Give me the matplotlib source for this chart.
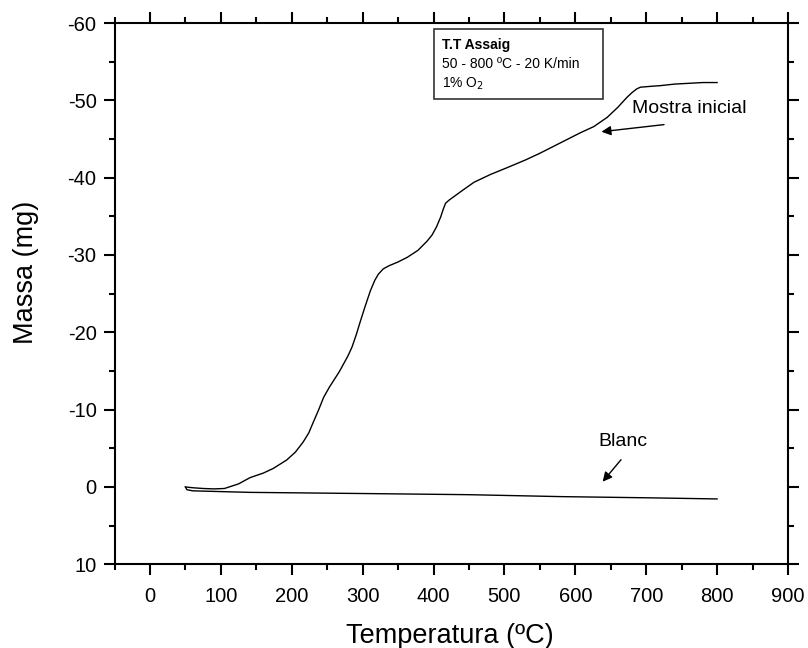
import matplotlib
matplotlib.use("Agg")
import matplotlib.pyplot as plt
from matplotlib.patches import Rectangle

plt.rcParams["font.family"] = ["Liberation Sans", "DejaVu Sans"]
plt.rcParams["axes.unicode_minus"] = False

# sample curve (Mostra inicial)
temp_mostra = [50, 60, 75, 90, 105, 115, 125, 141, 160, 174, 193, 205, 216, 224,
               230, 238, 245, 253, 260, 267, 273, 279, 285, 291, 297, 304, 311,
               317, 322, 329, 337, 350, 363, 378, 391, 398, 404, 410, 414, 417,
               422, 428, 440, 457, 480, 504, 530, 551, 579, 607, 626, 645, 660,
               673, 680, 687, 692, 705, 720, 740, 760, 780, 800]
massa_mostra = [0.0, 0.1, 0.2, 0.25, 0.2, -0.1, -0.4, -1.2, -1.8, -2.4, -3.5,
                -4.5, -5.8, -7.0, -8.3, -10.0, -11.6, -12.9, -13.9, -14.9,
                -15.9, -16.9, -18.1, -19.7, -21.5, -23.5, -25.4, -26.7, -27.5,
                -28.2, -28.6, -29.1, -29.7, -30.6, -31.8, -32.6, -33.6, -34.9,
                -36.0, -36.7, -37.1, -37.5, -38.3, -39.4, -40.4, -41.3, -42.3,
                -43.2, -44.5, -45.8, -46.6, -47.8, -49.1, -50.4, -51.0, -51.5,
                -51.7, -51.8, -51.9, -52.1, -52.2, -52.3, -52.3]

# blank curve (Blanc)
temp_blanc = [50, 52, 60, 100, 141, 300, 450, 580, 700, 800]
massa_blanc = [0.0, 0.35, 0.5, 0.6, 0.7, 0.85, 1.0, 1.25, 1.4, 1.55]

xticks = [0, 100, 200, 300, 400, 500, 600, 700, 800, 900]
yticks = [-60, -50, -40, -30, -20, -10, 0, 10]

fig = plt.figure(figsize=(8.08, 6.48), dpi=100)
ax = fig.add_axes([0.1418, 0.1292, 0.8334, 0.8353])

ax.plot(temp_mostra, massa_mostra, color="black", lw=1.0)
ax.plot(temp_blanc, massa_blanc, color="black", lw=1.0)

ax.set_xlim(-50, 900)
ax.set_ylim(10, -60)
ax.set_xticks(xticks)
ax.set_xticks(range(-50, 901, 50), minor=True)
ax.set_yticks(yticks)
ax.set_yticks(range(-60, 11, 5), minor=True)

ax.tick_params(which="both", direction="out", top=True, right=True,
               width=1.5, labelsize=14.5)
ax.tick_params(which="major", length=8, pad=5)
ax.tick_params(axis="x", which="major", pad=8)
ax.tick_params(which="minor", length=4)
for s in ax.spines.values():
    s.set_linewidth(1.5)

ax.set_xlabel("Temperatura (ºC)", fontsize=19.5)
ax.set_ylabel("Massa (mg)", fontsize=19.5)
ax.xaxis.set_label_coords(0.498, -0.108)
ax.yaxis.set_label_coords(-0.112, 0.54)

# info box
ax.add_patch(Rectangle((0.474, 0.860), 0.251, 0.129, transform=ax.transAxes,
                       fill=False, edgecolor="#333333", lw=1.2))
ax.text(0.486, 0.959, "T.T Assaig", transform=ax.transAxes, fontsize=10,
        fontweight="bold", va="center")
ax.text(0.486, 0.925, "50 - 800 ºC - 20 K/min", transform=ax.transAxes,
        fontsize=10, va="center")
ax.text(0.486, 0.888, "1% O$_2$", transform=ax.transAxes, fontsize=10,
        va="center")

ax.annotate("", xy=(633, -45.9), xytext=(729, -46.9),
            arrowprops=dict(arrowstyle="-|>", color="black", lw=1.0,
                            mutation_scale=14))
ax.text(680, -49.0, "Mostra inicial", fontsize=14, ha="left", va="center")

ax.annotate("", xy=(636, -0.4), xytext=(667, -3.8),
            arrowprops=dict(arrowstyle="-|>", color="black", lw=1.0,
                            mutation_scale=14))
ax.text(667, -5.9, "Blanc", fontsize=14, ha="center", va="center")

fig.savefig("out.png", dpi=100)
